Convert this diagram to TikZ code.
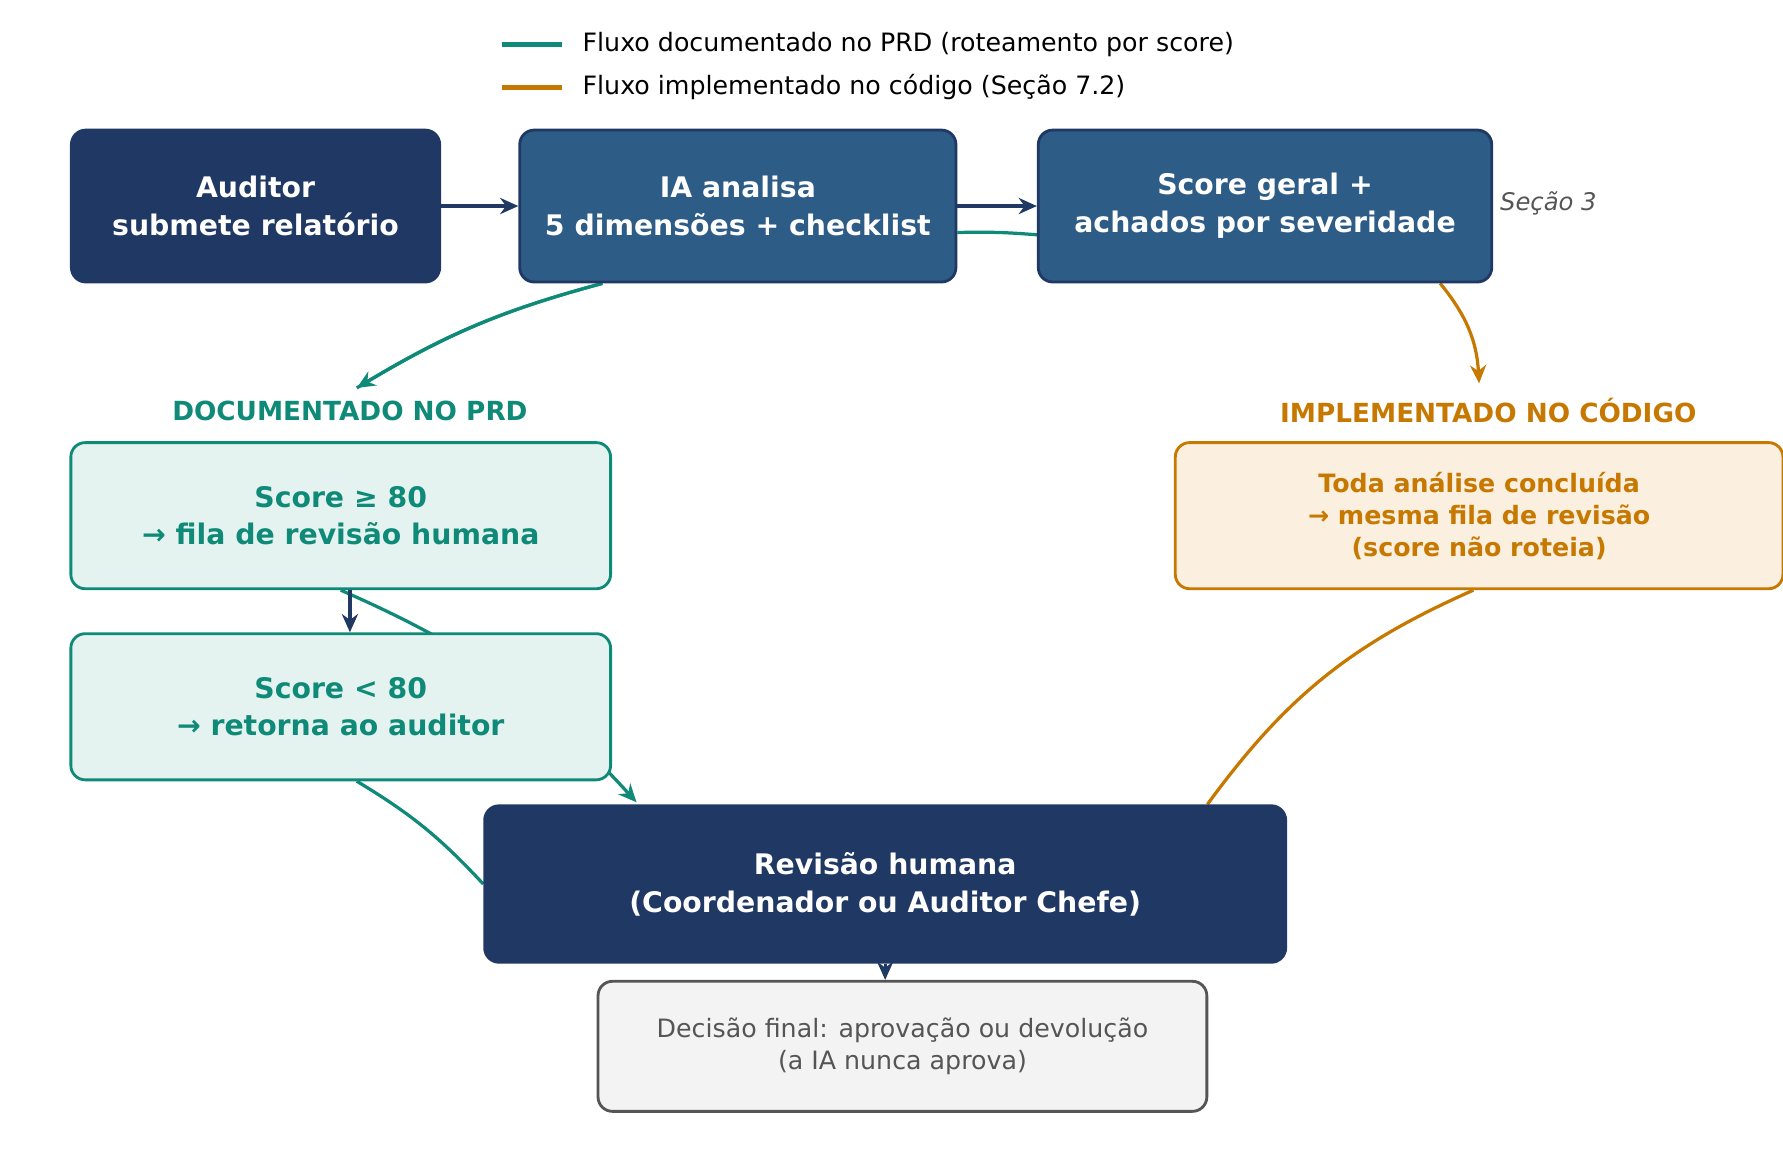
\documentclass[tikz,border=0pt]{standalone}
\usepackage{fontspec}
\setmainfont{DejaVu Sans}
\usetikzlibrary{backgrounds,arrows.meta}
\definecolor{navy}{HTML}{203864}
\definecolor{steel}{HTML}{2D5C87}
\definecolor{teal}{HTML}{0F8A78}
\definecolor{tealbg}{HTML}{E4F3EF}
\definecolor{orng}{HTML}{C77800}
\definecolor{orbg}{HTML}{FBEFDF}
\definecolor{gr}{HTML}{555555}
\definecolor{grbg}{HTML}{F3F3F3}
\begin{document}
\begin{tikzpicture}[x=0.02cm,y=-0.02cm,
 box/.style={rounded corners=0.25cm,line width=1.4pt,align=center,inner sep=0pt},
 big/.style={font=\fontsize{14}{18.7}\selectfont\bfseries},
 arr/.style={line width=1.6pt,-{Stealth[length=9pt,width=8pt]}},
 ln/.style={line width=1.6pt}]
\useasboundingbox (0,0) rectangle (1549,1000);
% legend
\coordinate (l1a) at (436,39); \coordinate (l1b) at (488,39);
\coordinate (l2a) at (436,76); \coordinate (l2b) at (488,76);
\draw[teal,line width=2.5pt] (l1a) -- (l1b);
\draw[orng,line width=2.5pt] (l2a) -- (l2b);
\node[anchor=west,font=\fontsize{12.5}{15}\selectfont] (lt1) at (500,39) {Fluxo documentado no PRD (roteamento por score)};
\node[anchor=west,font=\fontsize{12.5}{15}\selectfont] (lt2) at (500,76) {Fluxo implementado no código (Seção 7.2)};
% top row
\node[box,big,fill=navy,draw=navy,text=white,minimum width=320\pgflinewidth*0+6.4cm,minimum height=2.64cm] (aud) at (222,179) {Auditor\\submete relatório};
\node[box,big,fill=steel,draw=navy,text=white,minimum width=7.58cm,minimum height=2.64cm] (ia) at (641,179) {IA analisa\\5 dimensões + checklist};
\node[box,big,fill=steel,draw=navy,text=white,minimum width=7.88cm,minimum height=2.64cm] (sg) at (1099,179) {Score geral +\\achados por severidade};
\node[anchor=west,text=gr,font=\fontsize{12}{14}\selectfont\itshape] (s3) at (1297,177) {Seção 3};
% headings
\node[text=teal,font=\fontsize{13}{15}\selectfont\bfseries] (hd) at (304,357) {DOCUMENTADO NO PRD};
\node[text=orng,font=\fontsize{13}{15}\selectfont\bfseries] (hi) at (1293,357) {IMPLEMENTADO NO CÓDIGO};
% boxes
\node[box,big,fill=tealbg,draw=teal,text=teal,minimum width=9.38cm,minimum height=2.54cm] (s80) at (296,448) {Score ≥ 80\\→ fila de revisão humana};
\node[box,big,fill=tealbg,draw=teal,text=teal,minimum width=9.38cm,minimum height=2.54cm] (s79) at (296,614) {Score < 80\\→ retorna ao auditor};
\node[box,fill=orbg,draw=orng,text=orng,font=\fontsize{12.5}{15.8}\selectfont\bfseries,minimum width=10.56cm,minimum height=2.54cm] (toda) at (1285,448) {Toda análise concluída\\→ mesma fila de revisão\\(score não roteia)};
\node[box,big,fill=navy,draw=navy,text=white,minimum width=13.92cm,minimum height=2.72cm] (rev) at (769,768) {Revisão humana\\(Coordenador ou Auditor Chefe)};
\node[box,fill=grbg,draw=gr,text=gr,font=\fontsize{12.5}{15.8}\selectfont,minimum width=10.58cm,minimum height=2.26cm] (dec) at (784,909) {Decisão final: aprovação ou devolução\\(a IA nunca aprova)};
% connectors
\coordinate (c1) at (310,337);
\coordinate (c2) at (1285,333);
\coordinate (c3) at (553,697);
\begin{scope}[on background layer]
\draw[teal,ln] (ia.south west) ++(73,0) coordinate (iab) to[bend right=8] (c1);
\draw[teal,arr] (iab) to[bend right=8] (c1);
\draw[teal,ln] (ia.east) ++(0,23) coordinate (iar) to[bend left=3] ([yshift=-0.5cm]sg.west);
\draw[orng,arr] (sg.south east) ++(-46,0) coordinate (sgb) to[bend left=18] (c2);
\draw[teal,arr] (s80.south) to[bend left=12] (c3);
\draw[teal,ln] (s79.south) ++(14,0) coordinate (s79b) to[bend left=8] (rev.west);
\draw[orng,ln] (toda.south) ++(-5,0) coordinate (tb) to[bend right=15] ([xshift=5.6cm]rev.north);
\end{scope}
\draw[navy,arr] (aud) -- (ia);
\draw[navy,arr] (ia) -- (sg);
\draw[navy,arr] (s80.south) ++(8,0) coordinate (s80b) -- (s80b |- s79.north);
\draw[navy,arr] (rev.south) -- (rev.south |- dec.north);
\end{tikzpicture}
\end{document}
